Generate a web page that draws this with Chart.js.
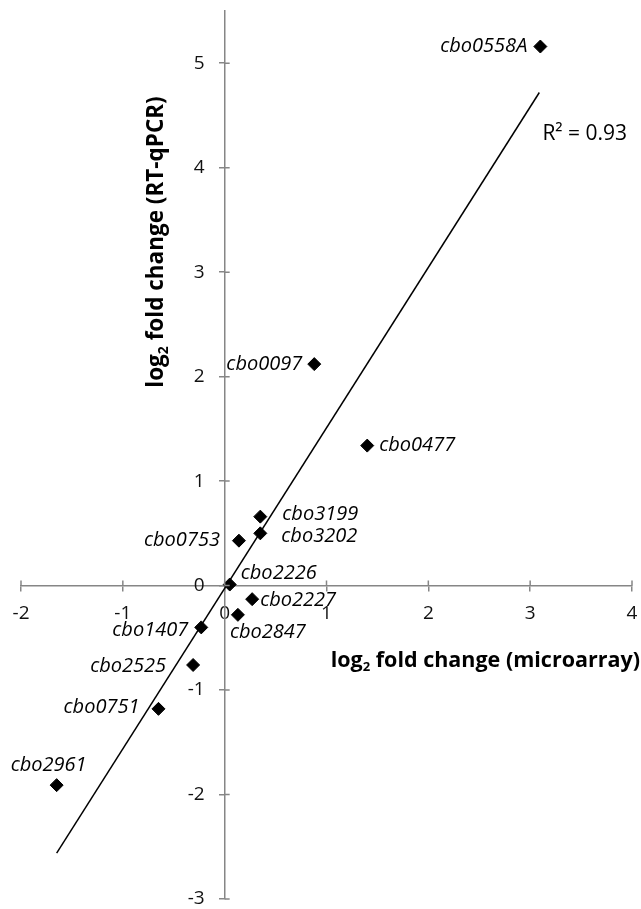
<!DOCTYPE html>
<html>
<head>
<meta charset="utf-8">
<script src="https://cdn.jsdelivr.net/npm/chart.js@4.4.1/dist/chart.umd.min.js"></script>
<style>
  html, body { margin: 0; padding: 0; background: #fff; }
  #wrap { width: 641px; height: 909px; }
</style>
</head>
<body>
<div id="wrap"><canvas id="chart"></canvas></div>
<script>
// values
const genes = ['cbo0558A', 'cbo0097', 'cbo0477', 'cbo3199', 'cbo3202', 'cbo0753', 'cbo2226',
               'cbo2227', 'cbo2847', 'cbo1407', 'cbo2525', 'cbo0751', 'cbo2961'];
const microarray = [3.10, 0.88, 1.40, 0.35, 0.35, 0.14, 0.05, 0.27, 0.13, -0.23, -0.31, -0.65, -1.65];
const rtqpcr = [5.16, 2.12, 1.34, 0.66, 0.50, 0.43, 0.01, -0.13, -0.28, -0.40, -0.76, -1.18, -1.91];
const trendX = [-1.65, 3.09];
const trendY = [-2.56, 4.72];
const xTicks = [-2, -1, 0, 1, 2, 3, 4];
const yTicks = [-3, -2, -1, 0, 1, 2, 3, 4, 5];
const rSquared = '0.93';

// where each gene label sits relative to its point: [dx, dy, align]
const labelPlace = [
    [-13, 0, 'right'],
    [-12, 0, 'right'],
    [12, 0, 'left'],
    [22, -2, 'left'],
    [21, 3, 'left'],
    [-19, 0, 'right'],
    [11, -11, 'left'],
    [8, 1, 'left'],
    [-8, 17, 'left'],
    [-13, 3, 'right'],
    [-27, 1, 'right'],
    [-19, -2, 'right'],
    [-8, -20, 'center']
];

const FONT = '"Open Sans", "Noto Sans", sans-serif';
const AXIS_GREY = '#868686';
const TICK_SIZE = 19;

// draws "log" + subscript 2 + rest, starting at x (left), vertical middle at y
function drawLogText(ctx, x, y, rest, size) {
    ctx.textAlign = 'left';
    ctx.textBaseline = 'middle';
    ctx.font = 'bold ' + size + 'px ' + FONT;
    ctx.fillText('log', x, y);
    let w = ctx.measureText('log').width;
    ctx.font = 'bold ' + Math.round(size * 0.6) + 'px ' + FONT;
    ctx.fillText('2', x + w, y + size * 0.3);
    w += ctx.measureText('2').width;
    ctx.font = 'bold ' + size + 'px ' + FONT;
    ctx.fillText(rest, x + w, y);
}

function logTextWidth(ctx, rest, size) {
    ctx.font = 'bold ' + size + 'px ' + FONT;
    let w = ctx.measureText('log').width + ctx.measureText(rest).width;
    ctx.font = 'bold ' + Math.round(size * 0.6) + 'px ' + FONT;
    return w + ctx.measureText('2').width;
}

const annotations = {
    id: 'annotations',
    afterDraw(chart) {
        const ctx = chart.ctx;
        const xs = chart.scales.x;
        const ys = chart.scales.y;
        const x0 = xs.getPixelForValue(0);
        const y0 = ys.getPixelForValue(0);
        ctx.save();

        // the other half of each tick mark, so ticks cross the axes
        ctx.strokeStyle = AXIS_GREY;
        ctx.lineWidth = 1.5;
        ctx.beginPath();
        xTicks.forEach(v => {
            const px = xs.getPixelForValue(v);
            ctx.moveTo(px, y0 - 5);
            ctx.lineTo(px, y0);
        });
        yTicks.forEach(v => {
            const py = ys.getPixelForValue(v);
            ctx.moveTo(x0, py);
            ctx.lineTo(x0 + 5, py);
        });
        ctx.stroke();

        // y tick labels, set off from the axis line
        ctx.fillStyle = '#111';
        ctx.font = TICK_SIZE + 'px ' + FONT;
        ctx.textAlign = 'right';
        ctx.textBaseline = 'middle';
        ys.ticks.forEach(t => {
            ctx.fillText(String(t.value), x0 - 20, ys.getPixelForValue(t.value));
        });

        // gene labels
        ctx.fillStyle = '#000';
        ctx.font = 'italic 20px ' + FONT;
        genes.forEach((g, i) => {
            const px = xs.getPixelForValue(microarray[i]);
            const py = ys.getPixelForValue(rtqpcr[i]);
            const [dx, dy, align] = labelPlace[i];
            ctx.textAlign = align;
            ctx.fillText(g, px + dx, py + dy);
        });

        // R squared
        ctx.font = '21px ' + FONT;
        ctx.textAlign = 'left';
        ctx.fillText('R\u00B2 = ' + rSquared, xs.getPixelForValue(3.12), ys.getPixelForValue(4.32));

        // axis titles
        const xRest = ' fold change (microarray)';
        const xw = logTextWidth(ctx, xRest, 21.5);
        drawLogText(ctx, 640 - xw, 661, xRest, 21.5);

        const yRest = ' fold change (RT-qPCR)';
        const yw = logTextWidth(ctx, yRest, 22.5);
        ctx.translate(157, 242);
        ctx.rotate(-Math.PI / 2);
        drawLogText(ctx, -yw / 2, 0, yRest, 22.5);

        ctx.restore();
    }
};

new Chart(document.getElementById('chart'), {
    type: 'scatter',
    data: {
        datasets: [
            {
                label: 'genes',
                data: microarray.map((x, i) => ({ x: x, y: rtqpcr[i] })),
                pointStyle: 'rectRot',
                pointRadius: 6.5,
                backgroundColor: '#000',
                borderColor: '#000',
                borderWidth: 1
            },
            {
                type: 'line',
                label: 'trend',
                data: trendX.map((x, i) => ({ x: x, y: trendY[i] })),
                borderColor: '#000',
                borderWidth: 1.5,
                pointRadius: 0,
                fill: false
            }
        ]
    },
    options: {
        responsive: true,
        maintainAspectRatio: false,
        animation: false,
        layout: { padding: { left: 21, right: 9, top: 11, bottom: 10 } },
        plugins: {
            legend: { display: false },
            tooltip: { enabled: false }
        },
        scales: {
            x: {
                type: 'linear',
                min: -2,
                max: 4,
                position: { y: 0 },
                afterBuildTicks: s => { s.ticks = xTicks.map(v => ({ value: v })); },
                // end labels fit inside the page, so no extra room is kept for them
                afterFit: s => { s.paddingLeft = 0; s.paddingRight = 0; },
                grid: { drawOnChartArea: false, drawTicks: true, tickLength: 5, color: AXIS_GREY, lineWidth: 1.5 },
                border: { color: AXIS_GREY, width: 1.5 },
                ticks: { font: { family: FONT, size: TICK_SIZE }, color: '#111', padding: 12, maxRotation: 0 }
            },
            y: {
                type: 'linear',
                min: -3,
                max: 5.5,
                position: { x: 0 },
                afterBuildTicks: s => { s.ticks = yTicks.map(v => ({ value: v })); },
                grid: { drawOnChartArea: false, drawTicks: true, tickLength: 5, color: AXIS_GREY, lineWidth: 1.5 },
                border: { color: AXIS_GREY, width: 1.5 },
                ticks: { display: false }
            }
        }
    },
    plugins: [annotations]
});
</script>
</body>
</html>
